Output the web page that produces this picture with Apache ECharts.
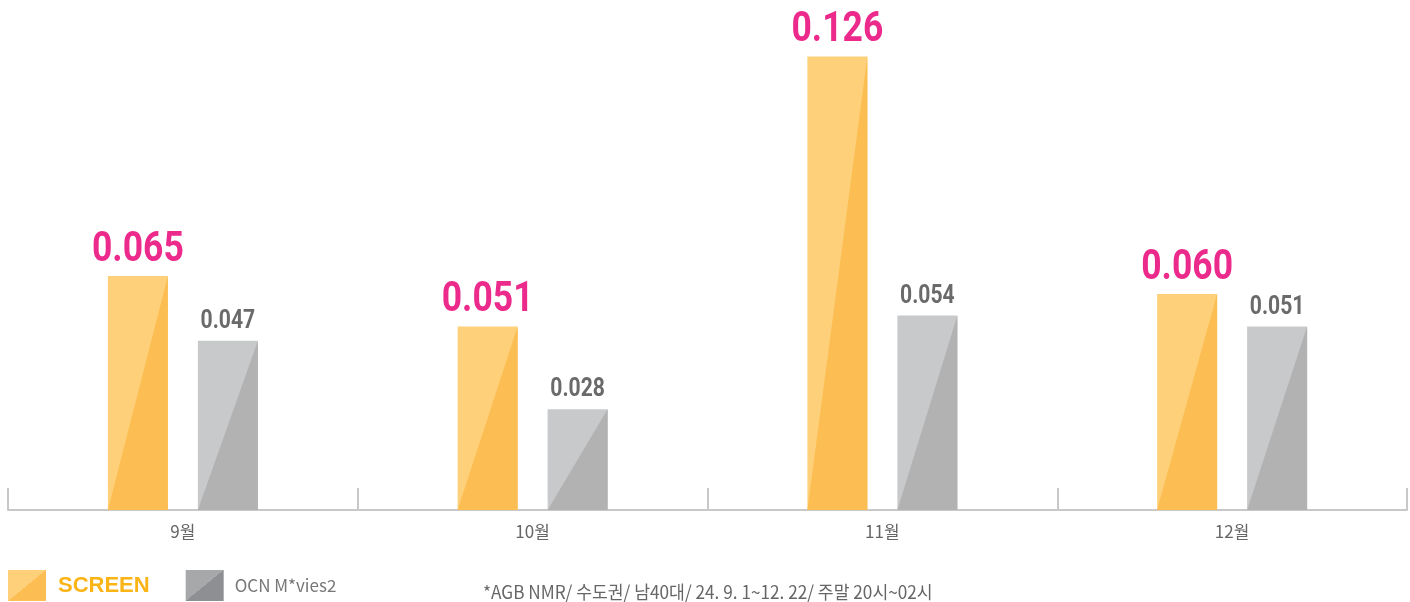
<!DOCTYPE html>
<html>
<head>
<meta charset="utf-8">
<script src="https://cdn.jsdelivr.net/npm/echarts@6/dist/echarts.min.js"></script>
<style>
  html, body { margin: 0; padding: 0; background: #fff; }
  #chart { width: 1410px; height: 602px; }
</style>
</head>
<body>
<div id="chart"></div>
<script>
var months = ['9월', '10월', '11월', '12월'];
var screenValues = [0.065, 0.051, 0.126, 0.060];
var ocnValues = [0.047, 0.028, 0.054, 0.051];
var seriesNames = ['SCREEN', 'OCN M*vies2'];
var footnote = '*AGB NMR/ 수도권/ 남40대/ 24. 9. 1~12. 22/ 주말 20시~02시';

var KR = "'Noto Sans CJK KR', sans-serif";
var SCREEN_LIGHT = '#fdd079', SCREEN_DARK = '#fcbd52';
var GRAY_LIGHT = '#c8c9cb', GRAY_DARK = '#b2b2b3';

// two-tone bar: light box with a darker triangle cut along the bottom-left to top-right diagonal
function barRenderer(offset, light, dark, labelColor, labelFont, lift) {
  return function (params, api) {
    var base = api.coord([api.value(0), 0]);
    var top = api.coord([api.value(0), api.value(1)]);
    var w = 60;
    var x = base[0] + offset - w / 2;
    return {
      type: 'group',
      children: [
        { type: 'rect', shape: { x: x, y: top[1], width: w, height: base[1] - top[1] }, style: { fill: light } },
        { type: 'polygon', shape: { points: [[x, base[1]], [x + w, top[1]], [x + w, base[1]]] }, style: { fill: dark } },
        {
          type: 'text',
          x: base[0] + offset,
          y: top[1] - lift,
          scaleX: 0.845,
          style: {
            text: api.value(1).toFixed(3),
            x: 0, y: 0,
            align: 'center', verticalAlign: 'middle',
            fill: labelColor, font: labelFont
          }
        }
      ]
    };
  };
}

function iconGradient(light, dark, w, h) {
  var s = (w * h) / (w * w + h * h);
  return new echarts.graphic.LinearGradient(0, 0, h / w, w / h, [
    { offset: 0, color: light }, { offset: s, color: light },
    { offset: s, color: dark }, { offset: 1, color: dark }
  ]);
}

var chart = echarts.init(document.getElementById('chart'), null, { renderer: 'canvas' });
chart.setOption({
  backgroundColor: '#fff',
  animation: false,
  graphic: [{
    type: 'text',
    x: 483,
    y: 592,
    scaleX: 0.955,
    style: {
      text: footnote,
      font: '18px ' + KR,
      fill: '#666',
      verticalAlign: 'middle'
    }
  }],
  legend: {
    left: 8,
    top: 570,
    padding: 0,
    itemWidth: 38,
    itemHeight: 31,
    itemGap: 36,
    selectedMode: false,
    data: [
      {
        name: seriesNames[0], icon: 'rect',
        itemStyle: { color: iconGradient(SCREEN_LIGHT, SCREEN_DARK, 38, 31) },
        textStyle: { color: '#fbb416', fontSize: 22, fontWeight: 'bold', fontFamily: 'Liberation Sans, Arial, sans-serif', padding: [0, 0, 0, 7] }
      },
      {
        name: seriesNames[1], icon: 'rect',
        itemStyle: { color: iconGradient('#a7a8aa', '#8e8f92', 38, 31) },
        textStyle: { color: '#777', fontSize: 17, fontFamily: KR, padding: [0, 0, 0, 6] }
      }
    ]
  },
  grid: { left: 8, right: 3, top: 6, bottom: 92 },
  xAxis: {
    type: 'category',
    data: months,
    boundaryGap: true,
    axisLine: { lineStyle: { color: '#c8c8c8', width: 2 } },
    axisTick: { show: true, inside: true, length: 22, lineStyle: { color: '#c8c8c8', width: 2 } },
    axisLabel: { color: '#666', fontSize: 17, fontFamily: KR, margin: 13 }
  },
  yAxis: {
    type: 'value',
    min: 0,
    max: 0.14,
    show: false,
    splitLine: { show: false }
  },
  series: [
    {
      name: seriesNames[0],
      type: 'custom',
      data: screenValues.map(function (v, i) { return [i, v]; }),
      renderItem: barRenderer(-45, SCREEN_LIGHT, SCREEN_DARK, '#ec2a8c', 'bold 42px Roboto, sans-serif', 26)
    },
    {
      name: seriesNames[1],
      type: 'custom',
      data: ocnValues.map(function (v, i) { return [i, v]; }),
      renderItem: barRenderer(45, GRAY_LIGHT, GRAY_DARK, '#6a6a6a', 'bold 25px Roboto, sans-serif', 19)
    }
  ]
});
window.addEventListener('resize', function () { chart.resize(); });
</script>
</body>
</html>
